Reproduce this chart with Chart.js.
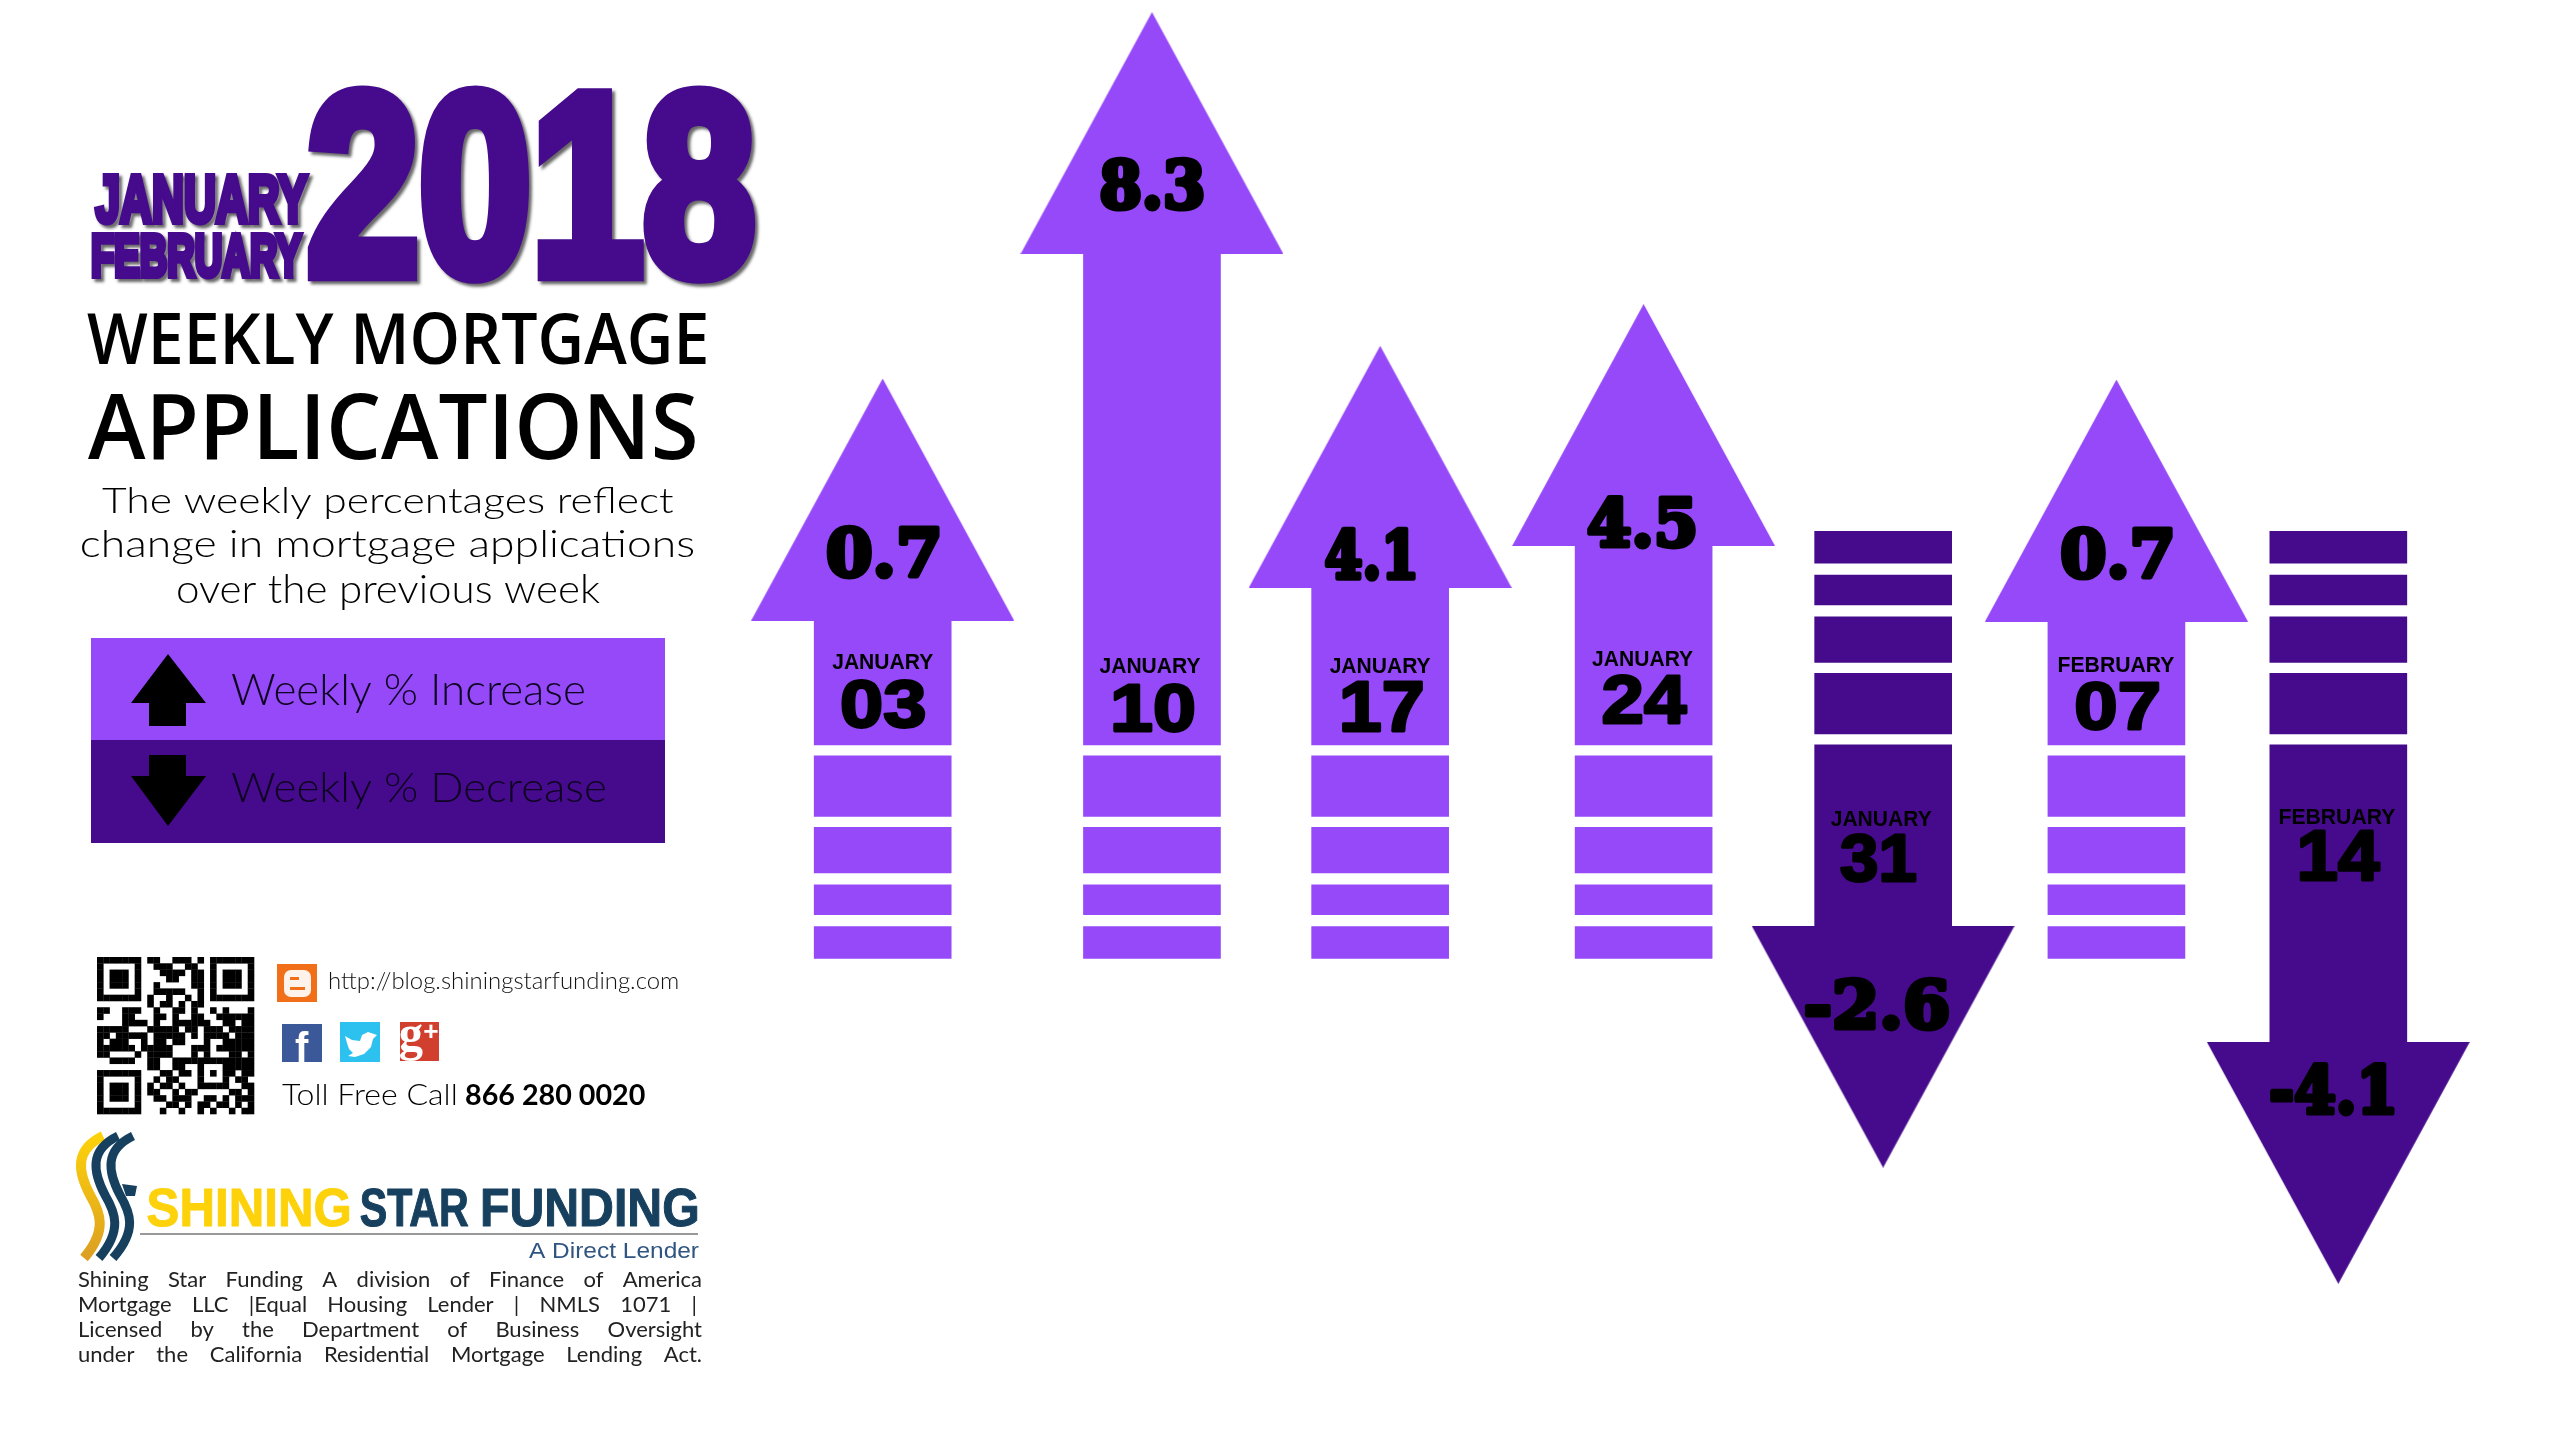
<!DOCTYPE html>
<html>
<head>
<meta charset="utf-8">
<title>Weekly Mortgage Applications</title>
<script src="https://cdn.jsdelivr.net/npm/chart.js@4"></script>
<style>
html, body { margin: 0; padding: 0; background: #fff; }
canvas { display: block; }
</style>
</head>
<body>
<canvas id="arrowChart" width="2550" height="1440"></canvas>
<script>
// data
var months = ['JANUARY', 'JANUARY', 'JANUARY', 'JANUARY', 'JANUARY', 'FEBRUARY', 'FEBRUARY'];
var days = ['03', '10', '17', '24', '31', '07', '14'];
var weeklyChange = [0.7, 8.3, 4.1, 4.5, -2.6, 0.7, -4.1];
// how far each arrow reaches from the base line; the picture does not draw them to scale
var arrowReach = [3.68, 7.37, 4.01, 4.43, -4.25, 3.67, -5.42];

// layout
var LIGHT = '#9549f8', DARK = '#450b8c';
var HEAD_H = 2.42, HEAD_PX_W = 263, HEAD_PX_H = 242, SHAFT_W = 137;
var xNudge = [-0.006, 0.108, 0.052, 0.142, 0.133, 0.098, 0.016];
var stripeBands = [[0.11, 0.72], [0.83, 1.29], [1.41, 1.71], [1.83, 2.15]];
var valueLevel = [1.94, 5.65, 1.92, 2.24, -2.61, 1.93, -3.47];
var valueDx = [0, 0, -10, -2, -6, 0, -6];
var valueW = [114, 104, 92, 110, 145, 113, 125];
var monthLevel = [0.84, 0.80, 0.80, 0.87, -0.74, 0.81, -0.72];
var monthDx = [0, -2, 0, -1, -2, 0, -1];
var dayLevel = [0.41, 0.37, 0.38, 0.46, -1.14, 0.39, -1.12];
var dayDx = [1, 1.5, 2, 2, -5, 1, 2];
var dayW = [85, 82, 82, 86, 77, 84, 83];

var arrowX = days.map(function (d, i) { return i + xNudge[i]; });
var arrowColors = weeklyChange.map(function (v) { return v > 0 ? LIGHT : DARK; });

function makeHead(color) {
    var c = document.createElement('canvas');
    c.width = HEAD_PX_W;
    c.height = HEAD_PX_H;
    var g = c.getContext('2d');
    g.fillStyle = color;
    g.beginPath();
    g.moveTo(HEAD_PX_W / 2, 0);
    g.lineTo(HEAD_PX_W, HEAD_PX_H);
    g.lineTo(0, HEAD_PX_H);
    g.closePath();
    g.fill();
    return c;
}
var upHead = makeHead(LIGHT), downHead = makeHead(DARK);

// draws text so that its ink fills the given box
function fitText(ctx, text, font, x0, y0, x1, y1, color, stroke, shadow) {
    stroke = stroke || 0;
    ctx.save();
    ctx.font = font;
    ctx.textAlign = 'left';
    ctx.textBaseline = 'alphabetic';
    var m = ctx.measureText(text);
    var sx = (x1 - x0 - stroke) / (m.actualBoundingBoxLeft + m.actualBoundingBoxRight);
    var sy = (y1 - y0 - stroke) / (m.actualBoundingBoxAscent + m.actualBoundingBoxDescent);
    ctx.translate(x0 + stroke / 2 + m.actualBoundingBoxLeft * sx, y0 + stroke / 2 + m.actualBoundingBoxAscent * sy);
    ctx.scale(sx, sy);
    ctx.fillStyle = color;
    ctx.strokeStyle = color;
    ctx.lineJoin = shadow ? 'miter' : 'round';
    if (shadow) {
        ctx.shadowColor = 'rgba(40,40,40,0.7)';
        ctx.shadowBlur = shadow;
        ctx.shadowOffsetX = 3;
        ctx.shadowOffsetY = 3;
    }
    if (stroke) {
        ctx.lineWidth = stroke / ((sx + sy) / 2);
        ctx.strokeText(text, 0, 0);
        ctx.shadowColor = 'transparent';
    }
    ctx.fillText(text, 0, 0);
    ctx.restore();
}

function fitCentered(ctx, text, font, cx, cy, w, h, stroke) {
    fitText(ctx, text, font, cx - w / 2, cy - h / 2, cx + w / 2, cy + h / 2, '#000', stroke);
}

function justified(ctx, line, x0, x1, baseline) {
    var words = line.split(' ');
    ctx.font = '22px Lato';
    ctx.fillStyle = '#222';
    ctx.textAlign = 'left';
    ctx.textBaseline = 'alphabetic';
    var total = 0;
    words.forEach(function (w) { total += ctx.measureText(w).width; });
    var gap = (x1 - x0 - total) / (words.length - 1);
    var x = x0;
    words.forEach(function (w) {
        ctx.fillText(w, x, baseline);
        x += ctx.measureText(w).width + gap;
    });
}

function poly(ctx, color, pts) {
    ctx.fillStyle = color;
    ctx.beginPath();
    pts.forEach(function (p, i) { i ? ctx.lineTo(p[0], p[1]) : ctx.moveTo(p[0], p[1]); });
    ctx.closePath();
    ctx.fill();
}

var qrRows = [
    '1111111011001110101111111',
    '1000001001110011001000001',
    '1011101000111101101011101',
    '1011101000011001101011101',
    '1011101001000001101011101',
    '1000001001111100101000001',
    '1111111010010010101111111',
    '0000000010110101100000000',
    '1100111001001101001010001',
    '1000110001101001100111111',
    '0000111101001111110011011',
    '1111100011111011011101111',
    '1101111101111101011110111',
    '1011100101101100010011111',
    '1111110111110001110111111',
    '1100001011110001010001101',
    '0011110011001111111111111',
    '0000000011001100100011111',
    '1111111000110110101011011',
    '1000001001011000100010110',
    '1011101010110100111110011',
    '1011101011001011000001101',
    '1011101001101110011010111',
    '1000001000011010110110101',
    '1111111000100100101001011'
];

function drawQr(ctx) {
    var size = 157 / 25;
    ctx.fillStyle = '#000';
    qrRows.forEach(function (row, r) {
        for (var c = 0; c < row.length; c++) {
            if (row[c] === '1') ctx.fillRect(97 + c * size, 957 + r * size, size + 0.3, size + 0.3);
        }
    });
}

function drawIcons(ctx) {
    // blogger
    ctx.fillStyle = '#f26f1a';
    ctx.fillRect(277, 964, 40, 38);
    ctx.fillStyle = '#fdf3ea';
    ctx.beginPath();
    ctx.roundRect(284, 970, 27, 27, 7);
    ctx.fill();
    ctx.fillStyle = '#f26f1a';
    ctx.fillRect(290, 977, 9, 3);
    ctx.fillRect(290, 987, 15, 3);
    // facebook
    ctx.fillStyle = '#3b5998';
    ctx.fillRect(282, 1024, 40, 38);
    fitText(ctx, 'f', 'bold 40px "Liberation Sans"', 295, 1030, 309, 1062, '#fff');
    // twitter
    ctx.fillStyle = '#2cc1ef';
    ctx.fillRect(340, 1022, 40, 40);
    poly(ctx, '#fff', [[345, 1036], [352, 1040], [360, 1041], [362, 1035], [368, 1032], [374, 1034], [377, 1035],
        [373, 1039], [371, 1047], [364, 1054], [355, 1057], [348, 1056], [353, 1053], [349, 1049], [347, 1043]]);
    // google plus
    ctx.fillStyle = '#d13f2e';
    ctx.fillRect(400, 1022, 39, 39);
    fitText(ctx, 'g', 'bold 40px "Liberation Serif"', 400, 1022, 423, 1061, '#fff');
    fitText(ctx, '+', 'bold 30px "Liberation Sans"', 424, 1024, 438, 1038, '#fff');
}

function wave(ctx, color, pts, width) {
    ctx.strokeStyle = color;
    ctx.lineWidth = width;
    ctx.lineCap = 'butt';
    ctx.beginPath();
    ctx.moveTo(pts[0], pts[1]);
    ctx.bezierCurveTo(pts[2], pts[3], pts[4], pts[5], pts[6], pts[7]);
    ctx.bezierCurveTo(pts[8], pts[9], pts[10], pts[11], pts[12], pts[13]);
    ctx.stroke();
}

function drawLogo(ctx) {
    var gold = ctx.createLinearGradient(0, 1135, 0, 1258);
    gold.addColorStop(0, '#fdd20a');
    gold.addColorStop(1, '#dc9f22');
    wave(ctx, gold, [103, 1136, 74, 1150, 78, 1172, 90, 1195, 100, 1212, 108, 1230, 84, 1258], 10);
    wave(ctx, '#17405f', [118, 1136, 89, 1150, 93, 1172, 105, 1195, 115, 1212, 123, 1230, 99, 1258], 9);
    wave(ctx, '#17405f', [133, 1136, 104, 1150, 108, 1172, 120, 1195, 130, 1212, 138, 1230, 113, 1258], 9);
    poly(ctx, '#17405f', [[122, 1184], [137, 1186], [135, 1196], [126, 1196]]);

    var shine = ctx.createLinearGradient(0, 1188, 0, 1227);
    shine.addColorStop(0, '#fdd20a');
    shine.addColorStop(1, '#e0a820');
    fitText(ctx, 'SHINING', 'bold 56px "Liberation Sans"', 147, 1188, 350, 1227, shine, 1);
    fitText(ctx, 'STAR', 'bold 56px "Liberation Sans"', 360, 1188, 469, 1227, '#17405f', 1);
    fitText(ctx, 'FUNDING', 'bold 56px "Liberation Sans"', 482, 1188, 698, 1227, '#17405f', 1);
    ctx.fillStyle = '#999';
    ctx.fillRect(140, 1233, 558, 2);
    fitText(ctx, 'A Direct Lender', '24px "Liberation Sans Narrow", "Liberation Sans"', 529, 1243, 699, 1258, '#2f5580');
}

var narrow = '"Liberation Sans Narrow", "Liberation Sans"';
var sideText = 'Lato';

// everything on the left of the arrows
function drawPanel(ctx) {
    fitText(ctx, '2018', 'bold 200px ' + narrow, 306, 86, 757, 283, DARK, 14, 3);
    fitText(ctx, 'JANUARY', 'bold 60px ' + narrow, 93, 174, 310, 226, DARK, 5, 3);
    fitText(ctx, 'FEBRUARY', 'bold 60px ' + narrow, 91, 233, 304, 279, DARK, 5, 3);

    fitText(ctx, 'WEEKLY MORTGAGE', '600 73px "Open Sans"', 87, 313, 706, 365, '#000');
    fitText(ctx, 'APPLICATIONS', '600 94px "Open Sans"', 88, 393, 695, 460, '#000');

    fitText(ctx, 'The weekly percentages reflect', '300 40px ' + sideText, 102, 487, 674, 519, '#000');
    fitText(ctx, 'change in mortgage applications', '300 40px ' + sideText, 82, 530, 694, 564, '#000');
    fitText(ctx, 'over the previous week', '300 40px ' + sideText, 178, 575, 600, 610, '#000');

    // legend
    ctx.fillStyle = LIGHT;
    ctx.fillRect(91, 638, 574, 102);
    ctx.fillStyle = DARK;
    ctx.fillRect(91, 740, 574, 103);
    poly(ctx, '#000', [[168, 654], [206, 703], [186, 703], [186, 726], [149, 726], [149, 703], [131, 703]]);
    poly(ctx, '#000', [[149, 755], [186, 755], [186, 776], [206, 776], [168, 826], [131, 776], [149, 776]]);
    fitText(ctx, 'Weekly % Increase', '300 44px ' + sideText, 232, 675, 584, 713, '#0d0320');
    fitText(ctx, 'Weekly % Decrease', '300 44px ' + sideText, 232, 773, 605, 810, '#0d0320');

    drawQr(ctx);
    drawIcons(ctx);
    fitText(ctx, 'http://blog.shiningstarfunding.com', '300 24px ' + sideText, 329, 973, 678, 993, '#111');
    fitText(ctx, 'Toll Free Call', '300 30px ' + sideText, 282, 1084, 456, 1105, '#000');
    fitText(ctx, '866 280 0020', 'bold 30px ' + sideText, 466, 1084, 645, 1105, '#000');

    drawLogo(ctx);
    justified(ctx, 'Shining Star Funding A division of Finance of America', 78, 702, 1287);
    justified(ctx, 'Mortgage LLC |Equal Housing Lender | NMLS 1071 |', 78, 697, 1312);
    justified(ctx, 'Licensed by the Department of Business Oversight', 78, 702, 1337);
    justified(ctx, 'under the California Residential Mortgage Lending Act.', 78, 702, 1362);
}

// labels on the arrows, placed through the chart's scales
var arrowLabels = {
    id: 'arrowLabels',
    afterDraw: function (chart) {
        var ctx = chart.ctx, xs = chart.scales.x, ys = chart.scales.y;
        weeklyChange.forEach(function (v, i) {
            var cx = xs.getPixelForValue(arrowX[i]);
            fitCentered(ctx, String(v), 'bold 60px "DejaVu Serif"', cx + valueDx[i], ys.getPixelForValue(valueLevel[i]), valueW[i], 55, 5);
            fitCentered(ctx, months[i], 'bold 24px "Liberation Sans"', cx + monthDx[i], ys.getPixelForValue(monthLevel[i]), months[i] === 'JANUARY' ? 101 : 116, 15);
            fitCentered(ctx, days[i], 'bold 60px "Liberation Sans"', cx + dayDx[i], ys.getPixelForValue(dayLevel[i]), dayW[i], 51, 3);
        });
        drawPanel(ctx);
    }
};

function stripeData(band) {
    return weeklyChange.map(function (v, i) {
        return { x: arrowX[i], y: v > 0 ? [-band[1], -band[0]] : [band[0], band[1]] };
    });
}

var barSets = stripeBands.map(function (band) {
    return { data: stripeData(band), backgroundColor: arrowColors };
});
barSets.push({
    // shafts run from the base line to the bottom of the head
    data: arrowReach.map(function (r, i) {
        return { x: arrowX[i], y: r > 0 ? [0, r - HEAD_H] : [r + HEAD_H, 0] };
    }),
    backgroundColor: arrowColors
});
barSets.forEach(function (s) {
    s.grouped = false;
    s.barThickness = SHAFT_W;
    s.borderWidth = 0;
});

var ctx = document.getElementById('arrowChart').getContext('2d');
var arrowChart = new Chart(ctx, {
    type: 'bar',
    data: {
        datasets: barSets.concat([{
            type: 'scatter',
            data: arrowReach.map(function (r, i) {
                return { x: arrowX[i], y: r > 0 ? r - HEAD_H / 2 : r + HEAD_H / 2 };
            }),
            pointStyle: weeklyChange.map(function (v) { return v > 0 ? upHead : downHead; }),
            pointRotation: weeklyChange.map(function (v) { return v > 0 ? 0 : 180; }),
            showLine: false
        }])
    },
    options: {
        responsive: false,
        animation: false,
        devicePixelRatio: 1,
        layout: { padding: 0 },
        scales: {
            x: { type: 'linear', display: false, offset: false, min: -3.637, max: 6.871 },
            y: { type: 'linear', display: false, min: -6.95, max: 7.45 }
        },
        plugins: {
            legend: { display: false },
            tooltip: { enabled: false }
        }
    },
    plugins: [arrowLabels]
});
</script>
</body>
</html>
